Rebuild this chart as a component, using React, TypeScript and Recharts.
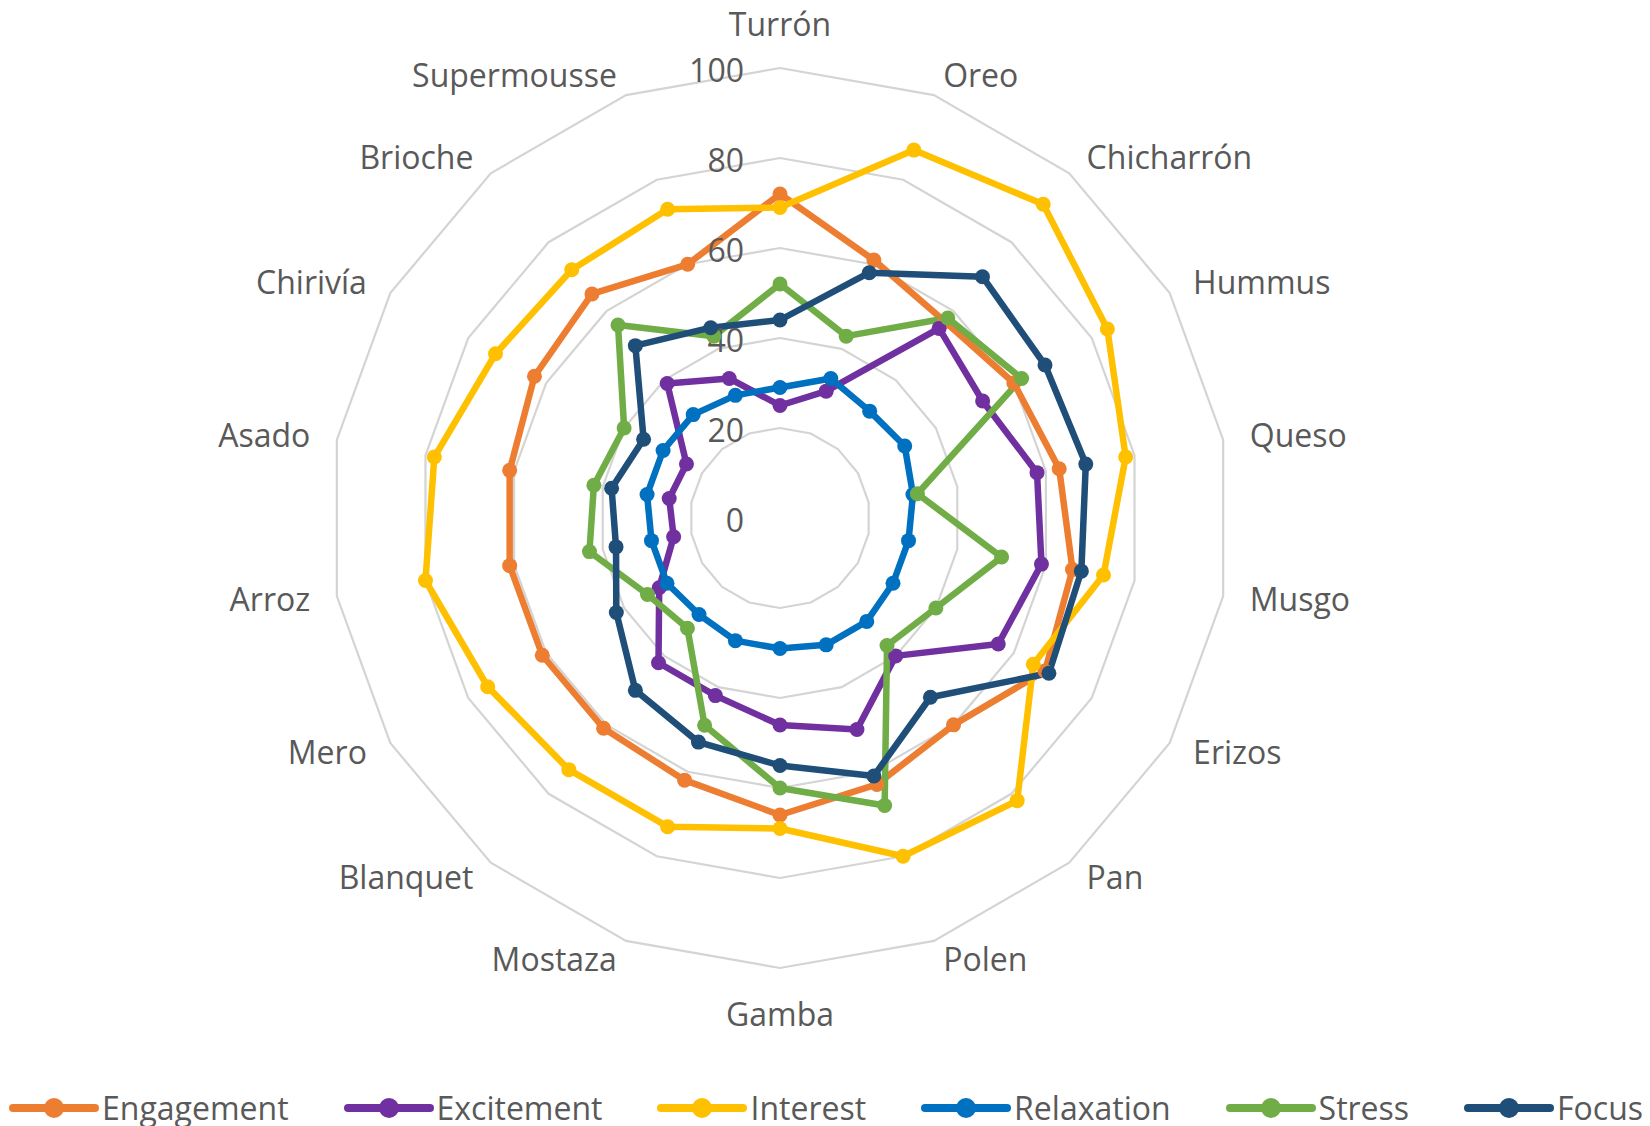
import React from "react";
import {
  RadarChart,
  Radar,
  PolarGrid,
  PolarAngleAxis,
  PolarRadiusAxis,
  Legend,
} from "recharts";

const categories = [
  "Turrón", "Oreo", "Chicharrón", "Hummus", "Queso", "Musgo", "Erizos", "Pan", "Polen",
  "Gamba", "Mostaza", "Blanquet", "Mero", "Arroz", "Asado", "Chirivía", "Brioche", "Supermousse",
];

const engagement = [72, 61, 57, 60, 63, 66, 68, 60, 63, 66, 62, 61, 61, 61, 61, 63, 65, 60];
const excitement = [25, 30, 55, 52, 58, 59, 56, 40, 50, 46, 42, 42, 31, 24, 25, 24, 39, 33];
const interest = [69, 87, 91, 84, 78, 73, 65, 82, 80, 69, 73, 73, 75, 80, 78, 73, 72, 73];
const relaxation = [29, 33, 31, 32, 30, 29, 29, 30, 30, 29, 29, 28, 29, 29, 30, 30, 30, 29];
const stress = [52, 43, 58, 62, 31, 50, 40, 37, 68, 60, 49, 32, 34, 43, 42, 40, 56, 43];
const focus = [44, 58, 70, 68, 69, 68, 69, 52, 61, 55, 53, 50, 42, 37, 38, 35, 50, 45];

const radiusTicks = [0, 20, 40, 60, 80, 100];

const series = [
  { key: "Engagement", values: engagement, color: "#ED7D31" },
  { key: "Excitement", values: excitement, color: "#7030A0" },
  { key: "Interest", values: interest, color: "#FFC000" },
  { key: "Relaxation", values: relaxation, color: "#0070C0" },
  { key: "Stress", values: stress, color: "#70AD47" },
  { key: "Focus", values: focus, color: "#1F4E79" },
];

const data = categories.map((name, i) => {
  const row: Record<string, string | number> = { name };
  series.forEach((s) => {
    row[s.key] = s.values[i];
  });
  return row;
});

// chart box is pulled up over the body margin so its top is the page top
const W = 1634;
const H = 1126;
const CX = 772;
const CY = 518;
const R = 450;
const FONT = "'Open Sans', sans-serif";
const TEXT = "#595959";

const AngleTick = (props: any) => {
  const { payload } = props;
  const idx = categories.indexOf(payload.value);
  const rad = (idx * 20 * Math.PI) / 180;
  const s = Math.sin(rad);
  const c = Math.cos(rad);
  const side = Math.abs(s) > 0.1;
  const x = CX + (side ? 477 : 0) * s;
  const y = CY - (side ? 470 : c > 0 ? 493 : 497) * c;
  const anchor = !side ? "middle" : s > 0 ? "start" : "end";
  return (
    <text x={x} y={y + 11} textAnchor={anchor} fill={TEXT} fontSize={32} fontFamily={FONT}>
      {payload.value}
    </text>
  );
};

const RadiusTick = (props: any) => {
  const { y, payload } = props;
  return (
    <text x={CX - 36} y={y + 14} textAnchor="end" fill={TEXT} fontSize={32} fontFamily={FONT}>
      {payload.value}
    </text>
  );
};

const makeDot = (color: string) => (props: any) => {
  const { cx, cy, index } = props;
  return <circle key={`d-${index}`} cx={cx} cy={cy} r={7.5} fill={color} stroke="none" />;
};

const renderLegend = () => (
  <div style={{ display: "flex", alignItems: "center", height: 40 }}>
    {series.map((s) => (
      <div key={s.key} style={{ display: "flex", alignItems: "center", marginRight: 54 }}>
        <svg width={92} height={30}>
          <line x1={5} y1={15} x2={87} y2={15} stroke={s.color} strokeWidth={8} strokeLinecap="round" />
          <circle cx={46} cy={15} r={10} fill={s.color} />
        </svg>
        <span style={{ fontFamily: FONT, fontSize: 32, color: TEXT, marginLeft: 2, lineHeight: "40px" }}>
          {s.key}
        </span>
      </div>
    ))}
  </div>
);

export default function App() {
  return (
    <div style={{ width: W, height: H, marginTop: -8 }}>
      <RadarChart width={W} height={H} data={data} cx={CX} cy={CY} outerRadius={R}>
        <PolarGrid gridType="polygon" radialLines={false} stroke="#d4d4d4" strokeWidth={2.2} />
        <PolarAngleAxis dataKey="name" tick={AngleTick} tickLine={false} axisLine={false} />
        <PolarRadiusAxis
          angle={90}
          domain={[0, 100]}
          ticks={radiusTicks}
          tickCount={6}
          tick={RadiusTick}
          axisLine={false}
          tickLine={false}
        />
        {series.map((s) => (
          <Radar
            key={s.key}
            name={s.key}
            dataKey={s.key}
            stroke={s.color}
            strokeWidth={6.5}
            strokeLinejoin="round"
            fill="none"
            fillOpacity={0}
            dot={makeDot(s.color)}
            isAnimationActive={false}
          />
        ))}
        <Legend
          content={renderLegend}
          wrapperStyle={{ position: "absolute", left: 0, top: 1088, width: W, height: 40 }}
        />
      </RadarChart>
    </div>
  );
}
